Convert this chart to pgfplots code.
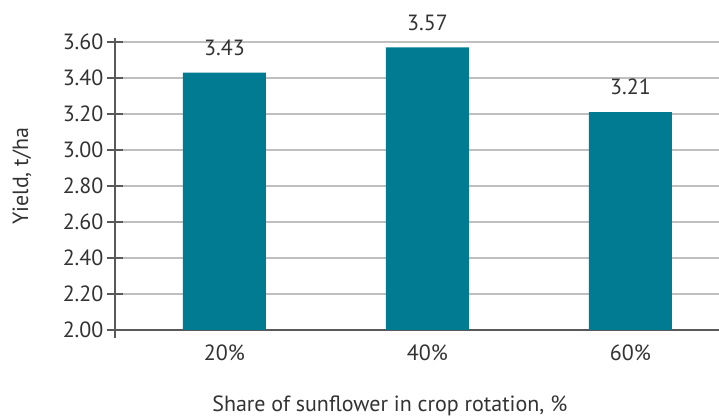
\documentclass[border=0pt]{standalone}
\usepackage{pgfplots}
\pgfplotsset{compat=1.18}
\usepackage{fontspec}
\setmainfont{PT Sans}
\definecolor{barc}{HTML}{007B91}
\definecolor{txt}{HTML}{333333}
\definecolor{axc}{HTML}{595959}
\definecolor{gridc}{HTML}{BFBFBF}
\begin{document}
\begin{tikzpicture}
\begin{axis}[
  name=ax,
  scale only axis,
  width=302pt, height=145.8pt,
  xmin=-0.539, xmax=2.436,
  ymin=2, ymax=3.62,
  ytick={2,2.2,2.4,2.6,2.8,3.0,3.2,3.4,3.6},
  xtick=data,
  xticklabels={20\%,40\%,60\%},
  axis lines=left,
  axis line style={-, draw=axc, line width=0.6pt},
  ymajorgrids,
  grid style={gridc, line width=0.6pt},
  tick align=center,
  ytick style={draw=axc, line width=0.6pt},
  major tick length=7.5pt,
  xtick style={draw=none},
  /pgf/number format/assume math mode=true,
  yticklabel={\pgfmathprintnumber[fixed,fixed zerofill,precision=2]{\tick}},
  font=\fontsize{11}{13}\selectfont,
  tick label style={txt, font=\fontsize{11}{13}\selectfont},
  yticklabel style={anchor=east, xshift=1.5pt},
  xticklabel style={anchor=north},
  xlabel={Share of sunflower in crop rotation, \%},
  ylabel={Yield, t/ha},
  xlabel style={txt, font=\fontsize{11}{13}\selectfont, at={(axis description cs:0.455,-0.261)}, anchor=center},
  ylabel style={txt, font=\fontsize{11}{13}\selectfont, at={(axis description cs:-0.154,0.527)}, anchor=center},
  nodes near coords,
  point meta=explicit symbolic,
  every node near coord/.append style={txt, font=\fontsize{11}{13}\selectfont, yshift=5pt},
  clip=false,
]
\addplot[ybar, bar width=41.5pt, fill=barc, draw=none] coordinates {
  (0,3.43) [3.43]
  (1,3.57) [3.57]
  (2,3.21) [3.21]
};
\end{axis}
\draw[axc, line width=0.6pt] (ax.south west) -- ([yshift=-4pt]ax.south west);
\pgfresetboundingbox
\path[use as bounding box] ([shift={(-57.5pt,-43.5pt)}]ax.south west) rectangle ++(359.5pt,208.5pt);
\end{tikzpicture}
\end{document}
